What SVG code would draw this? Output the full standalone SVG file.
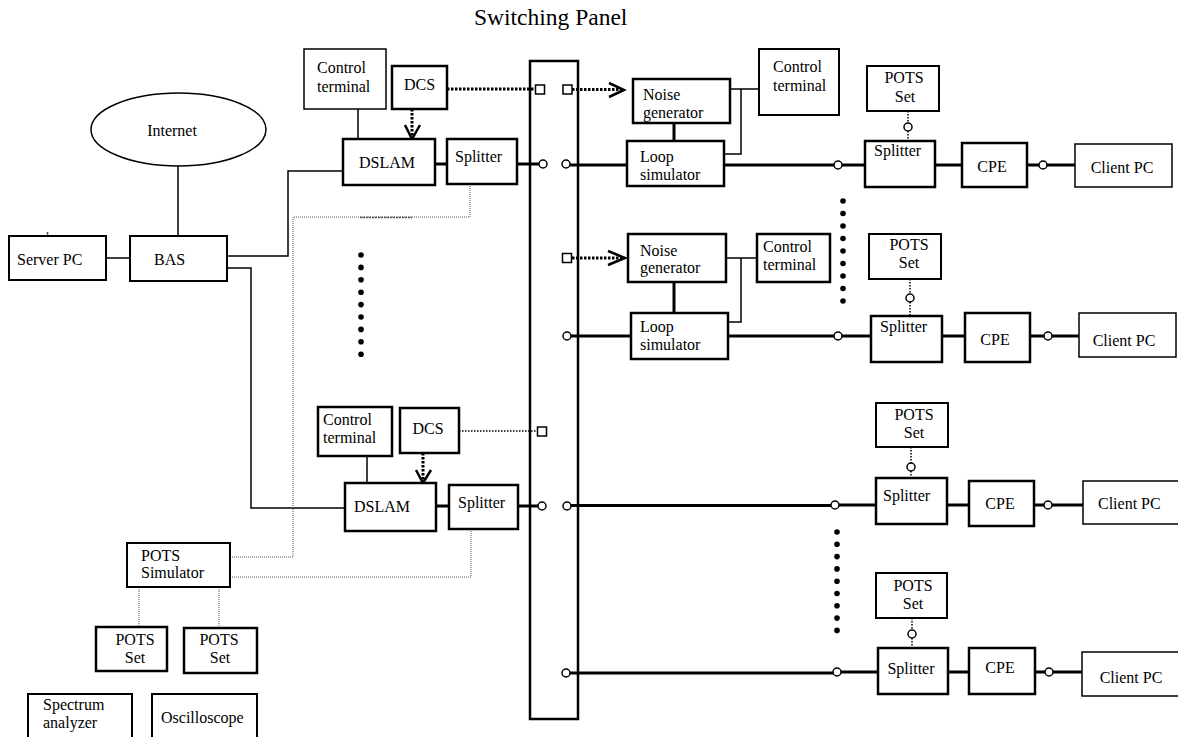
<svg xmlns="http://www.w3.org/2000/svg" width="1178" height="737" viewBox="0 0 1178 737">
<style>
.box{fill:#fff;stroke:#000;stroke-width:1.5}
.bold{stroke-width:2.5}
.t{font-family:"Liberation Serif","Times New Roman",serif;font-size:16px;fill:#000}
.m{text-anchor:middle}
.thin{stroke:#000;stroke-width:1.5;fill:none}
.sig{stroke:#000;stroke-width:3;fill:none}
.dot{stroke:#000;stroke-width:3;stroke-dasharray:2.5 1.5;fill:none}
.sdot{stroke:#000;stroke-width:1.5;stroke-dasharray:1.5 1.5;fill:none}
.fdot{stroke:#555;stroke-width:1;stroke-dasharray:1 1;fill:none}
.port{fill:#fff;stroke:#000;stroke-width:1.5}
.arr{stroke:#000;stroke-width:2.5;fill:none}
.bd{fill:#000}
</style>
<rect width="1178" height="737" fill="#fff"/>
<text class="t" x="474" y="25" style="font-size:23.5px">Switching Panel</text>

<g id="switching-panel"><rect class="box" style="stroke-width:2.5" x="530" y="61" width="48" height="658"/></g>

<g id="connectors">
  <!-- left side thin links -->
  <path class="thin" d="M178,166 V236"/>
  <path class="thin" d="M106,258 H130"/>
  <path class="thin" d="M227,256 H288 V171 H343"/>
  <path class="thin" d="M227,268 H251 V508 H345"/>
  <path class="thin" d="M358,109 V139"/>
  <path class="thin" d="M367,456 V483"/>
  <!-- fine dotted POTS simulator links -->
  <path class="fdot" d="M230,557 H293 V217 H470 V184"/>
  <path class="fdot" d="M360,217.5 H412" style="stroke-width:1.5;stroke-dasharray:2 1"/>
  <path class="fdot" d="M471,529 V577 H230"/>
  <path class="fdot" d="M139,587 V627"/>
  <path class="fdot" d="M219,587 V628"/>
  <!-- DCS control (thick dotted) -->
  <path class="dot" d="M447,89 H535"/>
  <path class="dot" d="M572,89.5 H622"/>
  <path class="arr" d="M609,83 L624,90 L609,97"/>
  <path class="dot" d="M412,109 V137"/>
  <path class="arr" d="M405,125 L412,139 L420,125"/>
  <path class="dot" d="M572,258 H623"/>
  <path class="arr" d="M608,251 L625,258 L608,265"/>
  <path class="dot" d="M423,453 V481"/>
  <path class="arr" d="M416,470 L423,483 L431,470"/>
  <path class="sdot" d="M459,431 H537"/>
  <!-- control terminals to noise/loop -->
  <path class="thin" d="M730,89 H759 M741,89 V154 H724"/>
  <path class="thin" d="M726,258 H757 M741,258 V322 H728"/>
  <path class="sig" d="M674,123 V141 M674,282 V313"/>
  <!-- signal lines row 1 -->
  <path class="sig" d="M435,164 H447 M517,164 H539 M570,165 H627 M724,165 H834 M842,165 H865 M935,165 H962 M1027,165 H1039 M1047,165 H1075"/>
  <!-- row 2 -->
  <path class="sig" d="M571,336 H631 M728,336 H834 M842,336 H871 M942,336 H965 M1030,336 H1044 M1052,336 H1079"/>
  <!-- row 3 -->
  <path class="sig" d="M436,506 H449 M518,506 H538 M571,505.5 H831 M839,505 H876 M947,505 H969 M1034,505 H1044 M1052,505 H1083"/>
  <!-- row 4 -->
  <path class="sig" d="M570,673 H833 M841,672 H878 M948,672 H969 M1035,672 H1045 M1053,672 H1082"/>
  <!-- POTS set dotted links (right) -->
  <path class="sdot" d="M908,111 V123 M908,131 V141"/>
  <path class="sdot" d="M910,279 V294 M910,302 V316"/>
  <path class="sdot" d="M911,447 V463 M911,471 V478"/>
  <path class="sdot" d="M912,618 V630 M912,638 V648"/>
  <!-- ports -->
  <rect class="port" x="535.5" y="85" width="9" height="9"/>
  <rect class="port" x="563" y="85" width="9" height="9"/>
  <rect class="port" x="562.5" y="253.5" width="9" height="9"/>
  <rect class="port" x="537.5" y="427" width="9" height="9"/>
  <circle class="port" cx="543" cy="164" r="4"/>
  <circle class="port" cx="566" cy="164" r="4"/>
  <circle class="port" cx="838" cy="165" r="4"/>
  <circle class="port" cx="1043" cy="165" r="4"/>
  <circle class="port" cx="908" cy="127" r="4"/>
  <circle class="port" cx="567" cy="336" r="4"/>
  <circle class="port" cx="838" cy="336" r="4"/>
  <circle class="port" cx="1048" cy="336" r="4"/>
  <circle class="port" cx="910" cy="298" r="4"/>
  <circle class="port" cx="542" cy="506" r="4"/>
  <circle class="port" cx="567" cy="506" r="4"/>
  <circle class="port" cx="835" cy="505" r="4"/>
  <circle class="port" cx="1048" cy="505" r="4"/>
  <circle class="port" cx="911" cy="467" r="4"/>
  <circle class="port" cx="566" cy="673" r="4"/>
  <circle class="port" cx="837" cy="672" r="4"/>
  <circle class="port" cx="1049" cy="672" r="4"/>
  <circle class="port" cx="912" cy="634" r="4"/>
</g>

<g id="ellipsis-dots">
  <circle class="bd" cx="361" cy="255" r="2.8"/><circle class="bd" cx="361" cy="267.4" r="2.8"/><circle class="bd" cx="361" cy="279.8" r="2.8"/><circle class="bd" cx="361" cy="292.2" r="2.8"/><circle class="bd" cx="361" cy="304.6" r="2.8"/><circle class="bd" cx="361" cy="317" r="2.8"/><circle class="bd" cx="361" cy="329.4" r="2.8"/><circle class="bd" cx="361" cy="341.8" r="2.8"/><circle class="bd" cx="361" cy="354.2" r="2.8"/>
  <circle class="bd" cx="843" cy="201" r="2.8"/><circle class="bd" cx="843" cy="213.5" r="2.8"/><circle class="bd" cx="843" cy="226" r="2.8"/><circle class="bd" cx="843" cy="238.5" r="2.8"/><circle class="bd" cx="843" cy="251" r="2.8"/><circle class="bd" cx="843" cy="263.5" r="2.8"/><circle class="bd" cx="843" cy="276" r="2.8"/><circle class="bd" cx="843" cy="288.5" r="2.8"/><circle class="bd" cx="843" cy="301" r="2.8"/>
  <circle class="bd" cx="837" cy="532" r="2.8"/><circle class="bd" cx="837" cy="544.3" r="2.8"/><circle class="bd" cx="837" cy="556.6" r="2.8"/><circle class="bd" cx="837" cy="568.9" r="2.8"/><circle class="bd" cx="837" cy="581.2" r="2.8"/><circle class="bd" cx="837" cy="593.5" r="2.8"/><circle class="bd" cx="837" cy="605.8" r="2.8"/><circle class="bd" cx="837" cy="618.1" r="2.8"/><circle class="bd" cx="837" cy="630.4" r="2.8"/>
</g>

<g id="internet"><ellipse class="box" cx="178.5" cy="129.5" rx="87.5" ry="36.5"/><text class="t m" x="172" y="136">Internet</text></g>
<g id="server-pc"><text class="t" x="45" y="239" style="font-size:10px">1</text><rect class="box" style="stroke-width:2" x="9" y="236" width="97" height="44"/><text class="t" x="17" y="265">Server PC</text></g>
<g id="bas"><rect class="box" style="stroke-width:2" x="130" y="236" width="97" height="45"/><text class="t" x="154" y="265">BAS</text></g>

<g id="control-terminal-1"><rect class="box" x="304" y="49" width="82" height="60"/><text class="t" x="317" y="73">Control</text><text class="t" x="317" y="92">terminal</text></g>
<g id="dcs-1"><rect class="box bold" x="392" y="66" width="55" height="43"/><text class="t" x="404" y="90">DCS</text></g>
<g id="dslam-1"><rect class="box bold" x="343" y="139" width="92" height="46"/><text class="t" x="359" y="168">DSLAM</text></g>
<g id="splitter-1"><rect class="box bold" x="447" y="139" width="70" height="45"/><text class="t" x="455" y="162">Splitter</text></g>

<g id="noise-generator-1"><rect class="box bold" x="633" y="79" width="97" height="44"/><text class="t" x="643" y="100">Noise</text><text class="t" x="643" y="118">generator</text></g>
<g id="loop-simulator-1"><rect class="box bold" x="627" y="141" width="97" height="45"/><text class="t" x="640" y="162">Loop</text><text class="t" x="640" y="180">simulator</text></g>
<g id="control-terminal-2"><rect class="box" style="stroke-width:2" x="759" y="49" width="80" height="66"/><text class="t" x="773" y="72">Control</text><text class="t" x="773" y="91">terminal</text></g>

<g id="pots-set-r1"><rect class="box" style="stroke-width:2" x="867" y="66" width="72" height="45"/><text class="t m" x="904" y="83">POTS</text><text class="t m" x="905" y="102">Set</text></g>
<g id="splitter-r1"><rect class="box bold" x="865" y="141" width="70" height="46"/><text class="t" x="874" y="156">Splitter</text></g>
<g id="cpe-1"><rect class="box bold" x="962" y="143" width="65" height="44"/><text class="t m" x="992" y="172">CPE</text></g>
<g id="client-pc-1"><rect class="box" x="1075" y="144" width="97" height="43"/><text class="t m" x="1122" y="173">Client PC</text></g>

<g id="noise-generator-2"><rect class="box bold" x="628" y="234" width="98" height="48"/><text class="t" x="640" y="256">Noise</text><text class="t" x="640" y="273">generator</text></g>
<g id="control-terminal-3"><rect class="box bold" x="757" y="234" width="73" height="48"/><text class="t" x="763" y="252">Control</text><text class="t" x="763" y="270">terminal</text></g>
<g id="loop-simulator-2"><rect class="box bold" x="631" y="313" width="97" height="46"/><text class="t" x="640" y="332">Loop</text><text class="t" x="640" y="350">simulator</text></g>

<g id="pots-set-r2"><rect class="box" style="stroke-width:2" x="869" y="234" width="72" height="45"/><text class="t m" x="909" y="250">POTS</text><text class="t m" x="909" y="268">Set</text></g>
<g id="splitter-r2"><rect class="box bold" x="871" y="316" width="71" height="46"/><text class="t" x="880" y="332">Splitter</text></g>
<g id="cpe-2"><rect class="box bold" x="965" y="313" width="65" height="49"/><text class="t m" x="995" y="345">CPE</text></g>
<g id="client-pc-2"><rect class="box" x="1079" y="313" width="97" height="44"/><text class="t m" x="1124" y="346">Client PC</text></g>

<g id="control-terminal-4"><rect class="box bold" x="318" y="407" width="74" height="49"/><text class="t" x="323" y="425">Control</text><text class="t" x="323" y="443">terminal</text></g>
<g id="dcs-2"><rect class="box bold" x="400" y="408" width="59" height="45"/><text class="t m" x="428" y="434">DCS</text></g>
<g id="dslam-2"><rect class="box bold" x="345" y="483" width="91" height="48"/><text class="t" x="354" y="512">DSLAM</text></g>
<g id="splitter-2"><rect class="box bold" x="449" y="485" width="69" height="44"/><text class="t" x="458" y="508">Splitter</text></g>

<g id="pots-set-r3"><rect class="box" style="stroke-width:2" x="876" y="403" width="72" height="44"/><text class="t m" x="914" y="420">POTS</text><text class="t m" x="914" y="438">Set</text></g>
<g id="splitter-r3"><rect class="box bold" x="876" y="478" width="71" height="46"/><text class="t" x="883" y="501">Splitter</text></g>
<g id="cpe-3"><rect class="box bold" x="969" y="481" width="65" height="45"/><text class="t m" x="1000" y="509">CPE</text></g>
<g id="client-pc-3"><rect class="box" x="1083" y="481" width="96" height="43"/><text class="t" x="1098" y="509">Client PC</text></g>

<g id="pots-set-r4"><rect class="box" style="stroke-width:2" x="876" y="573" width="71" height="45"/><text class="t m" x="913" y="591">POTS</text><text class="t m" x="913" y="609">Set</text></g>
<g id="splitter-r4"><rect class="box bold" x="878" y="648" width="70" height="46"/><text class="t m" x="911" y="674">Splitter</text></g>
<g id="cpe-4"><rect class="box bold" x="969" y="648" width="66" height="46"/><text class="t m" x="1000" y="673">CPE</text></g>
<g id="client-pc-4"><rect class="box" x="1082" y="652" width="97" height="44"/><text class="t m" x="1131" y="683">Client PC</text></g>

<g id="pots-simulator"><rect class="box" style="stroke-width:2" x="127" y="543" width="103" height="44"/><text class="t" x="141" y="561">POTS</text><text class="t" x="141" y="578">Simulator</text></g>
<g id="pots-set-l1"><rect class="box bold" x="96" y="627" width="71" height="44"/><text class="t m" x="135" y="645">POTS</text><text class="t m" x="135" y="663">Set</text></g>
<g id="pots-set-l2"><rect class="box bold" x="184" y="628" width="73" height="45"/><text class="t m" x="219" y="645">POTS</text><text class="t m" x="220" y="663">Set</text></g>
<g id="spectrum-analyzer"><rect class="box" style="stroke-width:2" x="28" y="694" width="104" height="50"/><text class="t" x="43" y="710">Spectrum</text><text class="t" x="43" y="728">analyzer</text></g>
<g id="oscilloscope"><rect class="box" style="stroke-width:2" x="152" y="694" width="105" height="50"/><text class="t" x="161" y="723">Oscilloscope</text></g>
</svg>
